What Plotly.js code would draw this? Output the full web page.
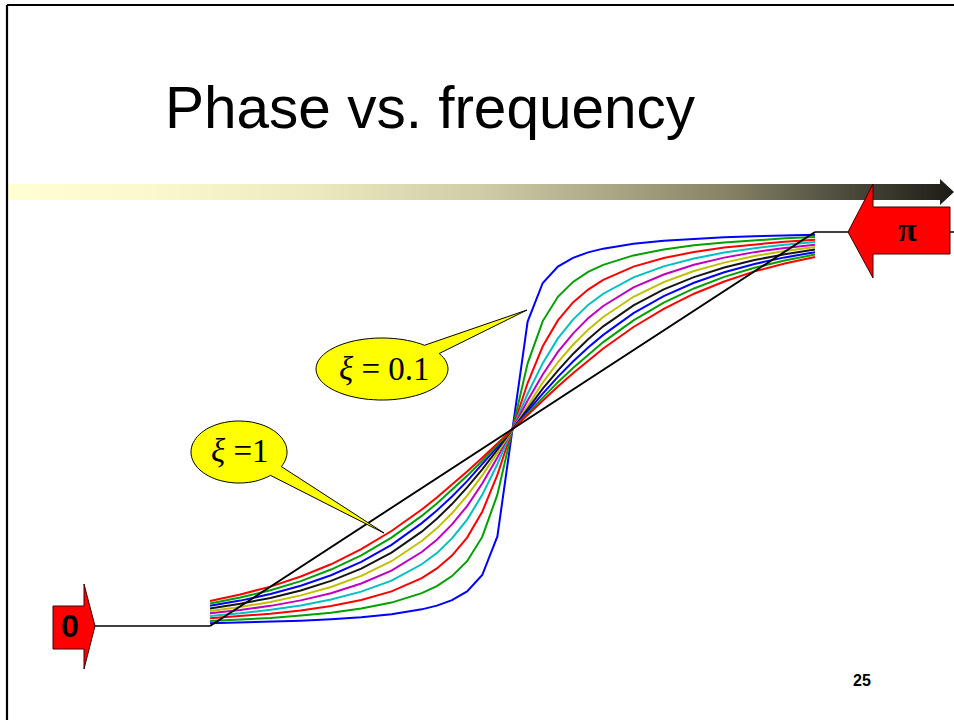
<!DOCTYPE html>
<html><head><meta charset="utf-8">
<script src="https://cdn.plot.ly/plotly-3.0.1.min.js"></script>
<style>html,body{margin:0;padding:0;background:#fff;} #chart{width:954px;height:720px;}</style>
</head><body><div id="chart"></div>
<script>
// ---- data (log10 of normalised frequency, phase in degrees) ----
const logFreq = [-1,-0.9,-0.8,-0.7,-0.6,-0.5,-0.4,-0.3,-0.25,-0.2,-0.15,-0.1,-0.05,0,0.05,0.1,0.15,0.2,0.25,0.3,0.4,0.5,0.6,0.7,0.8,0.9,1];
const zetaValues = ['0.1','0.2','0.3','0.4','0.5','0.6','0.7','0.8','0.9','1.0'];
const phaseZeta01 = [1.2,1.5,1.9,2.4,3.1,4.0,5.4,7.6,9.3,11.8,15.8,23.3,40.9,90,139.1,156.7,164.2,168.2,170.7,172.4,174.6,176.0,176.9,177.6,178.1,178.5,178.8];
const phaseZeta02 = [2.3,2.9,3.7,4.8,6.1,8.0,10.7,15.0,18.2,22.8,29.6,40.7,60.0,90,120.0,139.3,150.4,157.2,161.8,165.0,169.3,172.0,173.9,175.2,176.3,177.1,177.7];
const phaseZeta03 = [3.5,4.4,5.6,7.1,9.1,11.9,15.8,21.9,26.3,32.2,40.4,52.2,69.0,90,111.0,127.8,139.6,147.8,153.7,158.1,164.2,168.1,170.9,172.9,174.4,175.6,176.5];
const phaseZeta04 = [4.6,5.8,7.4,9.4,12.1,15.7,20.7,28.2,33.3,40.0,48.6,59.9,73.9,90,106.1,120.1,131.4,140.0,146.7,151.8,159.3,164.3,167.9,170.6,172.6,174.2,175.4];
const phaseZeta05 = [5.8,7.3,9.2,11.7,15.0,19.4,25.3,33.8,39.4,46.4,54.8,65.1,77.0,90,103.0,114.9,125.2,133.6,140.6,146.2,154.7,160.6,165.0,168.3,170.8,172.7,174.2];
const phaseZeta06 = [6.9,8.7,11.0,14.0,17.8,22.9,29.6,38.8,44.6,51.5,59.6,68.8,79.1,90,100.9,111.2,120.4,128.5,135.4,141.2,150.4,157.1,162.2,166.0,169.0,171.3,173.1];
const phaseZeta07 = [8.0,10.2,12.8,16.2,20.6,26.2,33.5,43.1,49.0,55.7,63.3,71.6,80.6,90,99.4,108.4,116.7,124.3,131.0,136.9,146.5,153.8,159.4,163.8,167.2,169.8,172.0];
const phaseZeta08 = [9.2,11.6,14.6,18.4,23.2,29.3,37.1,47.0,52.8,59.2,66.2,73.8,81.8,90,98.2,106.2,113.8,120.8,127.2,133.0,142.9,150.7,156.8,161.6,165.4,168.4,170.8];
const phaseZeta09 = [10.3,13.0,16.3,20.5,25.8,32.3,40.4,50.3,56.0,62.1,68.6,75.5,82.7,90,97.3,104.5,111.4,117.9,124.0,129.7,139.6,147.7,154.2,159.5,163.7,167.0,169.7];
const phaseZeta10 = [11.4,14.4,18.0,22.6,28.2,35.1,43.4,53.2,58.7,64.5,70.6,76.9,83.4,90,96.6,103.1,109.4,115.5,121.3,126.8,136.6,144.9,151.8,157.4,162.0,165.6,168.6];
const asymptoteX = [-1, 1];
const asymptoteY = [0, 180];
const lowLevelX = [-1.38, -1];
const lowLevelY = [0, 0];
const highLevelX = [1, 1.5];
const highLevelY = [180, 180];
const titleText = 'Phase vs. frequency';
const labelLow = '<i>ξ</i> =1';
const labelHigh = '<i>ξ</i> = 0.1';
const pageNumber = '25';

// ---- styling ----
const phaseSeries = [phaseZeta01,phaseZeta02,phaseZeta03,phaseZeta04,phaseZeta05,phaseZeta06,phaseZeta07,phaseZeta08,phaseZeta09,phaseZeta10];
const lineColors = ['#0000FF','#00A000','#FF0000','#00C0C0','#C000C0','#C0C000','#151515','#0000FF','#00A000','#FF0000'];

const W = 954, H = 720;
const PX_XL = 210, PX_XR = 815, PX_Y0 = 626, PX_YPI = 232;
const xPerPx = 2 / (PX_XR - PX_XL);
const yPerPx = 180 / (PX_Y0 - PX_YPI);
const xRange = [-1 - PX_XL * xPerPx, 1 + (W - PX_XR) * xPerPx];
const yRange = [-(H - PX_Y0) * yPerPx, 180 + PX_YPI * yPerPx];

const traces = [];
phaseSeries.forEach((ys, i) => {
  traces.push({x: logFreq, y: ys, type: 'scatter', mode: 'lines', name: 'ξ = ' + zetaValues[i],
    line: {color: lineColors[i], width: 2}, hoverinfo: 'skip'});
});
traces.push({x: lowLevelX, y: lowLevelY, type: 'scatter', mode: 'lines', line: {color: '#000', width: 1.7}, hoverinfo: 'skip'});
traces.push({x: highLevelX, y: highLevelY, type: 'scatter', mode: 'lines', line: {color: '#000', width: 1.7}, hoverinfo: 'skip'});
traces.push({x: asymptoteX, y: asymptoteY, type: 'scatter', mode: 'lines', line: {color: '#000', width: 1.9}, hoverinfo: 'skip'});

// decorative gradient bar with arrow head (pixel coordinates on overlay axes)
traces.push({
  x: [8, 940, 940, 954, 940, 940, 8], y: [184, 184, 179, 192, 205, 200, 200],
  xaxis: 'x2', yaxis: 'y2', type: 'scatter', mode: 'lines', fill: 'toself',
  line: {width: 0, color: 'rgba(0,0,0,0)'}, hoverinfo: 'skip',
  fillgradient: {type: 'horizontal', colorscale: [[0,'#FFFFD2'],[0.15,'#FAF8CC'],[0.32,'#ECEAC0'],[0.5,'#CFCCA6'],[0.63,'#ACA987'],[0.76,'#868366'],[0.89,'#4A493A'],[1,'#1C1C16']]}
});

function polyPath(pts) {
  return 'M ' + pts.map(p => p[0].toFixed(1) + ',' + p[1].toFixed(1)).join(' L ') + ' Z';
}
function calloutPath(cx, cy, rx, ry, aStart, aEnd, tip) {
  const pts = [];
  const n = 80;
  for (let k = 0; k <= n; k++) {
    const a = (aStart + (aEnd - aStart) * k / n) * Math.PI / 180;
    pts.push([cx + rx * Math.cos(a), cy - ry * Math.sin(a)]);
  }
  pts.push(tip);
  return polyPath(pts);
}

const shapes = [
  {type: 'line', xref: 'x2', yref: 'y2', x0: 7, y0: 5, x1: 960, y1: 5, line: {color: '#000', width: 2.2}},
  {type: 'line', xref: 'x2', yref: 'y2', x0: 7, y0: 5, x1: 7, y1: 725, line: {color: '#000', width: 2.2}},
  // pi arrow (pointing left)
  {type: 'path', xref: 'x2', yref: 'y2', layer: 'above',
    path: polyPath([[848,232],[873,184],[873,207],[950,207],[950,254],[873,254],[873,278]]),
    fillcolor: '#FF0000', line: {color: '#3a0000', width: 1}},
  // zero arrow (pointing right)
  {type: 'path', xref: 'x2', yref: 'y2', layer: 'above',
    path: polyPath([[53,606],[84,606],[84,584],[95,626],[84,669],[84,649],[53,649]]),
    fillcolor: '#FF0000', line: {color: '#3a0000', width: 1}},
  // callout xi = 0.1
  {type: 'path', xref: 'x2', yref: 'y2', layer: 'above',
    path: calloutPath(382, 369, 66, 31, 50, 390, [527, 310]),
    fillcolor: '#FFFF00', line: {color: '#000', width: 1}},
  // callout xi = 1
  {type: 'path', xref: 'x2', yref: 'y2', layer: 'above',
    path: calloutPath(239, 452, 48, 31, -28, 311, [384, 533]),
    fillcolor: '#FFFF00', line: {color: '#000', width: 1}}
];

const serif = "'Liberation Serif', 'Times New Roman', serif";
const sans = "'Liberation Sans', Arial, sans-serif";
const annotations = [
  {xref: 'x2', yref: 'y2', x: 164, y: 107, text: titleText, showarrow: false, xanchor: 'left', yanchor: 'middle', borderpad: 0,
    font: {family: sans, size: 58.5, color: '#000'}},
  {xref: 'x2', yref: 'y2', x: 384, y: 369, text: labelHigh, showarrow: false, xanchor: 'center', yanchor: 'middle',
    font: {family: serif, size: 33, color: '#000'}},
  {xref: 'x2', yref: 'y2', x: 240, y: 451, text: labelLow, showarrow: false, xanchor: 'center', yanchor: 'middle',
    font: {family: serif, size: 33, color: '#000'}},
  {xref: 'x2', yref: 'y2', x: 907, y: 229, text: '<b>π</b>', showarrow: false, xanchor: 'center', yanchor: 'middle',
    font: {family: serif, size: 34, color: '#000'}},
  {xref: 'x2', yref: 'y2', x: 70, y: 626, text: '<b>0</b>', showarrow: false, xanchor: 'center', yanchor: 'middle',
    font: {family: sans, size: 32, color: '#000'}},
  {xref: 'x2', yref: 'y2', x: 862, y: 680, text: '<b>' + pageNumber + '</b>', showarrow: false, xanchor: 'center', yanchor: 'middle',
    font: {family: sans, size: 16, color: '#000'}}
];

const layout = {
  width: W, height: H, margin: {l: 0, r: 0, t: 0, b: 0, pad: 0},
  paper_bgcolor: '#fff', plot_bgcolor: 'rgba(0,0,0,0)', showlegend: false,
  xaxis: {range: xRange, visible: false, fixedrange: true},
  yaxis: {range: yRange, visible: false, fixedrange: true},
  xaxis2: {range: [0, W], overlaying: 'x', visible: false, fixedrange: true},
  yaxis2: {range: [H, 0], overlaying: 'y', visible: false, fixedrange: true},
  shapes: shapes, annotations: annotations
};
Plotly.newPlot('chart', traces, layout, {staticPlot: true, displayModeBar: false});
</script></body></html>
